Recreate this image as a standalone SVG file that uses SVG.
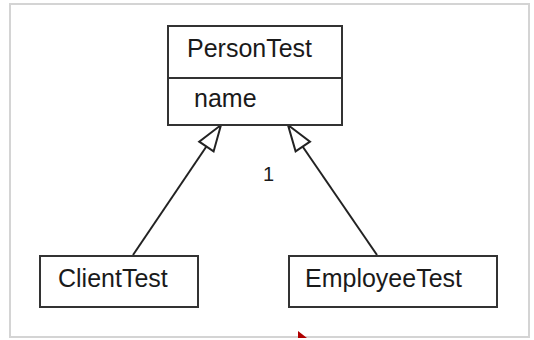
<svg xmlns="http://www.w3.org/2000/svg" width="534" height="340" viewBox="0 0 534 340">
<style>
.box{fill:#fff;stroke:#333;stroke-width:2}
.t{font-family:"Liberation Sans",Arial,sans-serif;font-size:25px;fill:#1a1a1a}
.c{fill:none;stroke:#222;stroke-width:2}
.h{fill:#fff;stroke:#222;stroke-width:2;stroke-linejoin:miter}
</style>
<rect x="0" y="0" width="534" height="340" fill="#fff"/>
<rect x="10" y="4" width="519" height="333" fill="none" stroke="#d4d4d4" stroke-width="2"/>
<g id="connectors">
<line class="c" x1="133" y1="255" x2="206.4" y2="146.5"/>
<polygon class="h" points="221,125 213.6,151.4 199.2,141.6"/>
<line class="c" x1="377" y1="255" x2="302.6" y2="146.5"/>
<polygon class="h" points="288,125 310,141.6 295.6,151.4"/>
<text class="t" x="263" y="181" style="font-size:20px">1</text>
</g>
<g id="PersonTest">
<rect class="box" x="168" y="26" width="174" height="99"/>
<line x1="168" y1="78" x2="342" y2="78" stroke="#333" stroke-width="2"/>
<text class="t" x="187" y="57">PersonTest</text>
<text class="t" x="194" y="107">name</text>
</g>
<g id="ClientTest">
<rect class="box" x="40" y="256" width="158" height="51"/>
<text class="t" x="58" y="287">ClientTest</text>
</g>
<g id="EmployeeTest">
<rect class="box" x="289" y="256" width="208" height="51"/>
<text class="t" x="305" y="287">EmployeeTest</text>
</g>
<polygon points="298,331 298,338 307,338" fill="#b00000"/>
</svg>
